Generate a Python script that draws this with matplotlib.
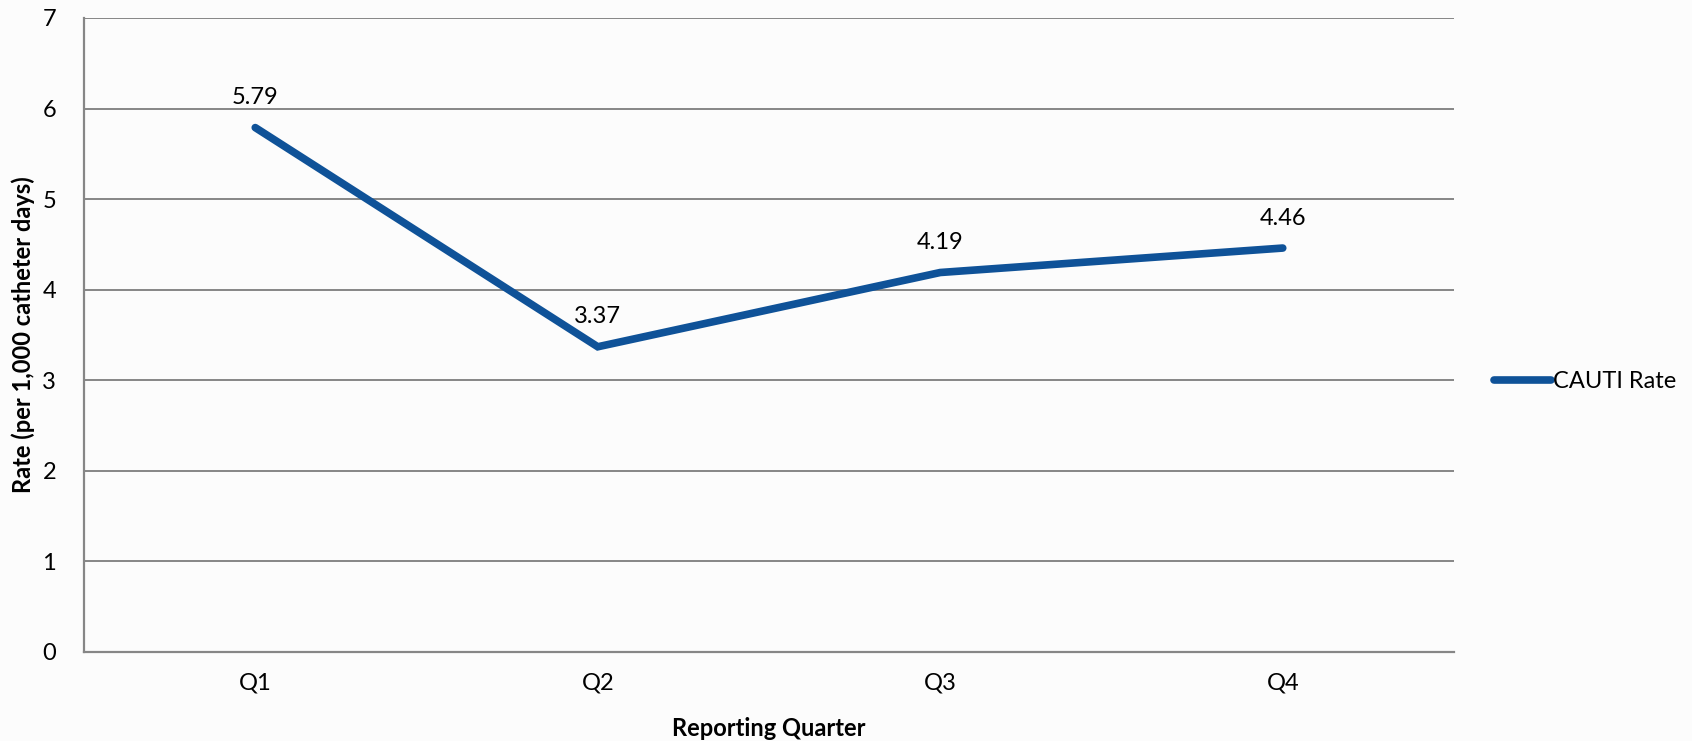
import matplotlib.pyplot as plt

# Data
quarters = ['Q1', 'Q2', 'Q3', 'Q4']
cauti_rate = [5.79, 3.37, 4.19, 4.46]
y_ticks = [0, 1, 2, 3, 4, 5, 6, 7]

plt.rcParams['font.family'] = ['Lato', 'DejaVu Sans']

fig = plt.figure(figsize=(16.92, 7.41), dpi=100)
fig.patch.set_facecolor('#fcfcfc')
ax = fig.add_axes([84 / 1692, 1 - 652 / 741, 1370 / 1692, (652 - 18) / 741])
ax.set_facecolor('#fcfcfc')

x = list(range(len(quarters)))
line, = ax.plot(x, cauti_rate, color='#0f5298', linewidth=5.5,
                solid_capstyle='round', solid_joinstyle='miter', label='CAUTI Rate', zorder=3)

for xi, v in zip(x, cauti_rate):
    ax.annotate(f'{v:.2f}', (xi, v), xytext=(0, 14), textcoords='offset points',
                ha='center', va='bottom', fontsize=17, color='black')

ax.set_xlim(-0.5, 3.5)
ax.set_ylim(0, 7)
ax.set_xticks(x)
ax.set_xticklabels(quarters)
ax.set_yticks(y_ticks)
ax.tick_params(axis='both', length=0, labelsize=17, colors='black')
ax.tick_params(axis='x', pad=15)
ax.tick_params(axis='y', pad=20)

ax.grid(axis='y', color='#868686', linewidth=1.4, zorder=1)
ax.set_axisbelow(True)
for side in ['top', 'right']:
    ax.spines[side].set_visible(False)
for side in ['left', 'bottom']:
    ax.spines[side].set_color('#868686')
    ax.spines[side].set_linewidth(1.6)

ax.set_xlabel('Reporting Quarter', fontsize=17, fontweight='bold', labelpad=17)
ax.set_ylabel('Rate (per 1,000 catheter days)', fontsize=17, fontweight='bold')
ax.yaxis.set_label_coords(-0.036, 0.5)

fig.legend(handles=[line], loc='center left', bbox_to_anchor=(1494 / 1692, 1 - 382 / 741),
           frameon=False, fontsize=17, handlelength=2.4, handletextpad=0.1,
           borderpad=0, borderaxespad=0)

fig.savefig('out.png', dpi=100, facecolor=fig.get_facecolor())
